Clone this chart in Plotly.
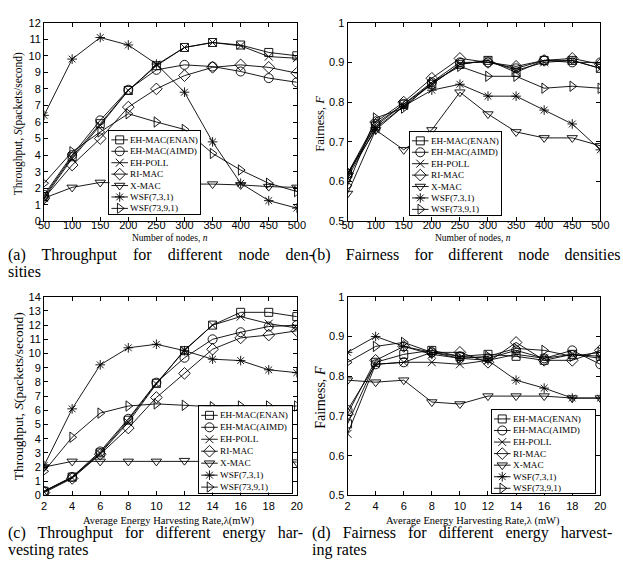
import plotly.graph_objects as go

W, H = 623, 568

# ---------------- data ----------------
names = ["EH-MAC(ENAN)", "EH-MAC(AIMD)", "EH-POLL", "RI-MAC", "X-MAC", "WSF(7,3,1)", "WSF(73,9,1)"]
nodes = [50, 100, 150, 200, 250, 300, 350, 400, 450, 500]
rates = [2, 4, 6, 8, 10, 12, 14, 16, 18, 20]

# (a) throughput vs nodes
thr_nodes_enan = [1.5, 3.9, 5.9, 7.9, 9.4, 10.5, 10.8, 10.65, 10.2, 10.0]
thr_nodes_aimd = [1.6, 4.0, 6.1, 7.95, 9.15, 9.45, 9.35, 9.05, 8.65, 8.4]
thr_nodes_poll = [1.4, 3.8, 5.8, 7.9, 9.45, 10.5, 10.8, 10.6, 9.95, 9.85]
thr_nodes_rimac = [1.4, 3.4, 5.0, 6.9, 8.0, 8.8, 9.3, 9.45, 9.3, 8.95]
thr_nodes_xmac = [1.4, 2.05, 2.35, 2.3, 2.3, 2.25, 2.25, 2.2, 2.1, 2.05]
thr_nodes_wsf731 = [6.4, 9.8, 11.1, 10.65, 9.5, 7.8, 4.8, 2.3, 1.25, 0.8]
thr_nodes_wsf7391 = [2.3, 4.2, 5.4, 6.5, 6.0, 5.55, 4.1, 3.1, 2.3, 1.8]

# (b) fairness vs nodes
fair_nodes_enan = [0.62, 0.74, 0.795, 0.845, 0.895, 0.905, 0.875, 0.905, 0.905, 0.885]
fair_nodes_aimd = [0.615, 0.745, 0.795, 0.85, 0.90, 0.90, 0.885, 0.905, 0.90, 0.90]
fair_nodes_poll = [0.61, 0.735, 0.79, 0.845, 0.895, 0.905, 0.88, 0.90, 0.905, 0.885]
fair_nodes_rimac = [0.62, 0.75, 0.80, 0.86, 0.91, 0.90, 0.89, 0.905, 0.91, 0.895]
fair_nodes_xmac = [0.57, 0.73, 0.68, 0.73, 0.825, 0.77, 0.725, 0.71, 0.71, 0.69]
fair_nodes_wsf731 = [0.62, 0.73, 0.79, 0.83, 0.845, 0.815, 0.815, 0.78, 0.745, 0.68]
fair_nodes_wsf7391 = [0.59, 0.76, 0.785, 0.85, 0.89, 0.865, 0.865, 0.835, 0.84, 0.835]

# (c) throughput vs harvesting rate
thr_rate_enan = [0.3, 1.3, 3.0, 5.3, 7.9, 10.2, 12.0, 12.9, 12.9, 12.6]
thr_rate_aimd = [0.3, 1.3, 3.1, 5.4, 7.95, 9.7, 11.0, 11.5, 11.9, 12.0]
thr_rate_poll = [0.25, 1.25, 2.95, 5.15, 7.85, 10.25, 12.0, 12.6, 12.1, 11.8]
thr_rate_rimac = [0.2, 1.2, 2.9, 4.75, 6.9, 8.6, 10.3, 11.1, 11.3, 11.6]
thr_rate_xmac = [2.0, 2.4, 2.4, 2.4, 2.4, 2.45, 2.45, 2.45, 2.4, 2.35]
thr_rate_wsf731 = [2.1, 6.1, 9.2, 10.4, 10.65, 10.2, 9.6, 9.5, 8.85, 8.65]
thr_rate_wsf7391 = [1.7, 4.1, 5.8, 6.3, 6.45, 6.35, 6.25, 6.3, 6.3, 6.3]

# (d) fairness vs harvesting rate
fair_rate_enan = [0.68, 0.835, 0.855, 0.865, 0.85, 0.855, 0.85, 0.84, 0.855, 0.85]
fair_rate_aimd = [0.715, 0.83, 0.835, 0.86, 0.85, 0.845, 0.865, 0.845, 0.865, 0.83]
fair_rate_poll = [0.655, 0.83, 0.835, 0.835, 0.83, 0.84, 0.855, 0.845, 0.855, 0.845]
fair_rate_rimac = [0.705, 0.84, 0.875, 0.86, 0.86, 0.835, 0.885, 0.84, 0.84, 0.865]
fair_rate_xmac = [0.79, 0.785, 0.79, 0.735, 0.73, 0.75, 0.75, 0.75, 0.745, 0.745]
fair_rate_wsf731 = [0.86, 0.90, 0.875, 0.855, 0.845, 0.84, 0.79, 0.77, 0.745, 0.745]
fair_rate_wsf7391 = [0.835, 0.875, 0.885, 0.86, 0.845, 0.85, 0.87, 0.865, 0.85, 0.86]

panels = [
    (nodes, [thr_nodes_enan, thr_nodes_aimd, thr_nodes_poll, thr_nodes_rimac, thr_nodes_xmac, thr_nodes_wsf731, thr_nodes_wsf7391]),
    (nodes, [fair_nodes_enan, fair_nodes_aimd, fair_nodes_poll, fair_nodes_rimac, fair_nodes_xmac, fair_nodes_wsf731, fair_nodes_wsf7391]),
    (rates, [thr_rate_enan, thr_rate_aimd, thr_rate_poll, thr_rate_rimac, thr_rate_xmac, thr_rate_wsf731, thr_rate_wsf7391]),
    (rates, [fair_rate_enan, fair_rate_aimd, fair_rate_poll, fair_rate_rimac, fair_rate_xmac, fair_rate_wsf731, fair_rate_wsf7391]),
]

# ---------------- styles ----------------
symbols = ["square-open", "circle-open", "x-thin-open", "diamond-open",
           "triangle-down-open", "asterisk-open", "triangle-right-open"]
msizes = [8, 9, 8, 9, 9, 8, 9]
SERIF = "Liberation Serif"
SANS = "Liberation Sans"

# plot areas in pixels (x0, y0, x1, y1), top-left origin
areas = [(39, 17, 298, 220), (350, 17, 609, 220), (39, 297, 298, 500), (350, 297, 609, 500)]
legend_boxes = [(106, 128, 199, 212), (414, 129, 507, 213), (198, 409, 293, 497), (498, 413, 604, 498)]
xranges = [[50, 500], [50, 500], [2, 20], [2, 20]]
yranges = [[0, 12], [0.5, 1], [0, 14], [0.5, 1]]
xdticks = [50, 50, 2, 2]
ydticks = [1, 0.1, 1, 0.1]

def xdom(x0, x1):
    return [x0 / W, x1 / W]

def ydom(y0, y1):
    return [1 - y1 / H, 1 - y0 / H]

fig = go.Figure()
layout = {}

for p, ((xs, series), (x0, y0, x1, y1)) in enumerate(zip(panels, areas)):
    n = p + 1
    xa = "x" if n == 1 else f"x{n}"
    ya = "y" if n == 1 else f"y{n}"
    for i, ys in enumerate(series):
        fig.add_trace(go.Scatter(
            x=xs, y=ys, xaxis=xa, yaxis=ya, mode="lines+markers", showlegend=False,
            line=dict(color="black", width=0.9),
            marker=dict(symbol=symbols[i], size=msizes[i], color="black",
                        line=dict(color="black", width=0.9)),
            name=names[i]))
    top = p < 2
    layout[f"xaxis{'' if n == 1 else n}"] = dict(
        domain=xdom(x0, x1), range=xranges[p], dtick=xdticks[p], tick0=xranges[p][0],
        showline=True, linecolor="black", linewidth=1, mirror="ticks",
        ticks="inside", ticklen=4, tickcolor="black", showgrid=False, zeroline=False,
        tickfont=dict(family=SANS, size=11, color="black"),
        showticklabels=not top,
        anchor=ya)
    layout[f"yaxis{'' if n == 1 else n}"] = dict(
        domain=ydom(y0, y1), range=yranges[p], dtick=ydticks[p],
        showline=True, linecolor="black", linewidth=1, mirror="ticks",
        ticks="inside", ticklen=4, tickcolor="black", showgrid=False, zeroline=False,
        tickfont=dict(family=SANS, size=11, color="black"),
        anchor=xa)
    if top:
        # label-only companion axis, set slightly higher (the top row is tightly packed)
        la = f"x{9 + p}"
        layout[f"xaxis{9 + p}"] = dict(
            overlaying=xa, anchor="free", position=1 - (y1 - 4) / H,
            range=xranges[p], dtick=xdticks[p], tick0=xranges[p][0],
            showline=False, ticks="", showgrid=False, zeroline=False,
            tickfont=dict(family=SANS, size=11, color="black"), side="bottom")
        fig.add_trace(go.Scatter(x=xs, y=series[0], xaxis=la, yaxis=ya, mode="markers",
                                 marker=dict(opacity=0, size=1), opacity=0,
                                 showlegend=False, hoverinfo="skip"))

# ---------------- legends (drawn as small overlay panels) ----------------
annotations = []
for p, (lx0, ly0, lx1, ly1) in enumerate(legend_boxes):
    n = 5 + p
    layout[f"xaxis{n}"] = dict(domain=xdom(lx0, lx1), range=[0, lx1 - lx0], visible=True,
                               showline=True, mirror=True, linecolor="black", linewidth=1,
                               showticklabels=False, ticks="", showgrid=False, zeroline=False,
                               fixedrange=True, anchor=f"y{n}")
    layout[f"yaxis{n}"] = dict(domain=ydom(ly0, ly1), range=[-0.45, 6.75],
                               showline=True, mirror=True, linecolor="black", linewidth=1,
                               showticklabels=False, ticks="", showgrid=False, zeroline=False,
                               fixedrange=True, anchor=f"x{n}")
    for i, nm in enumerate(names):
        yv = 6 - i
        fig.add_trace(go.Scatter(x=[2, 19], y=[yv, yv], mode="lines", xaxis=f"x{n}", yaxis=f"y{n}",
                                 line=dict(color="black", width=0.9), showlegend=False, hoverinfo="skip"))
        fig.add_trace(go.Scatter(x=[10.5], y=[yv], mode="markers", xaxis=f"x{n}", yaxis=f"y{n}",
                                 marker=dict(symbol=symbols[i], size=msizes[i], color="black",
                                             line=dict(color="black", width=0.9)),
                                 showlegend=False, hoverinfo="skip"))
        annotations.append(dict(x=19.5, y=yv, xref=f"x{n}", yref=f"y{n}", text=nm, showarrow=False,
                                xanchor="left", yanchor="middle",
                                font=dict(family=SERIF, size=9.2, color="black")))

# ---------------- axis titles ----------------
def ann(xp, yp, text, size, angle=0, xanchor="center"):
    annotations.append(dict(x=xp / W, y=1 - yp / H, xref="paper", yref="paper", text=text,
                            showarrow=False, textangle=angle, xanchor=xanchor, yanchor="middle",
                            font=dict(family=SERIF, size=size, color="black")))

ann(168, 237, "Number of nodes, <i>n</i>", 9.5)
ann(479, 237, "Number of nodes, <i>n</i>", 9.5)
ann(167, 526, "Average Energy Harvesting Rate,λ(mW)", 10.5)
ann(479, 526, "Average Energy Harvesting Rate,λ (mW)", 10.5)
ann(13, 120, "Throughput, <i>S</i>(packets/second)", 11.5, angle=-90)
ann(322, 120, "Fairness, <i>F</i>", 12.5, angle=-90)
ann(13, 399, "Throughput, <i>S</i>(packets/second)", 13.5, angle=-90)
ann(322, 400, "Fairness, <i>F</i>", 14, angle=-90)

# ---------------- captions ----------------
def cap(xp, yp, text):
    annotations.append(dict(x=xp / W, y=1 - yp / H, xref="paper", yref="paper", text=text,
                            showarrow=False, xanchor="left", yanchor="middle",
                            font=dict(family=SERIF, size=16, color="black")))

gap3 = "\u00a0\u00a0\u00a0 "
gapb = "\u00a0\u00a0\u2009 "
gap2 = "\u00a0\u00a0 "
cap(0, 254, gap3.join("(a) Throughput for different node den-".split(" ")))
cap(311, 254, gapb.join("(b) Fairness for different node densities".split(" ")))
cap(0, 271, "sities")
cap(0, 538, gap2.join("(c) Throughput for different energy har-".split(" ")))
cap(311, 538, gap2.join("(d) Fairness for different energy harvest-".split(" ")))
cap(0, 556, "vesting rates")
cap(311, 556, "ing rates")

fig.update_layout(
    width=W, height=H, margin=dict(l=0, r=0, t=0, b=0),
    paper_bgcolor="white", plot_bgcolor="white",
    showlegend=False, annotations=annotations, **layout)

fig.write_html("out.html", config={"displayModeBar": False},
               post_script="document.body.style.margin='0';document.body.style.overflow='hidden';")
